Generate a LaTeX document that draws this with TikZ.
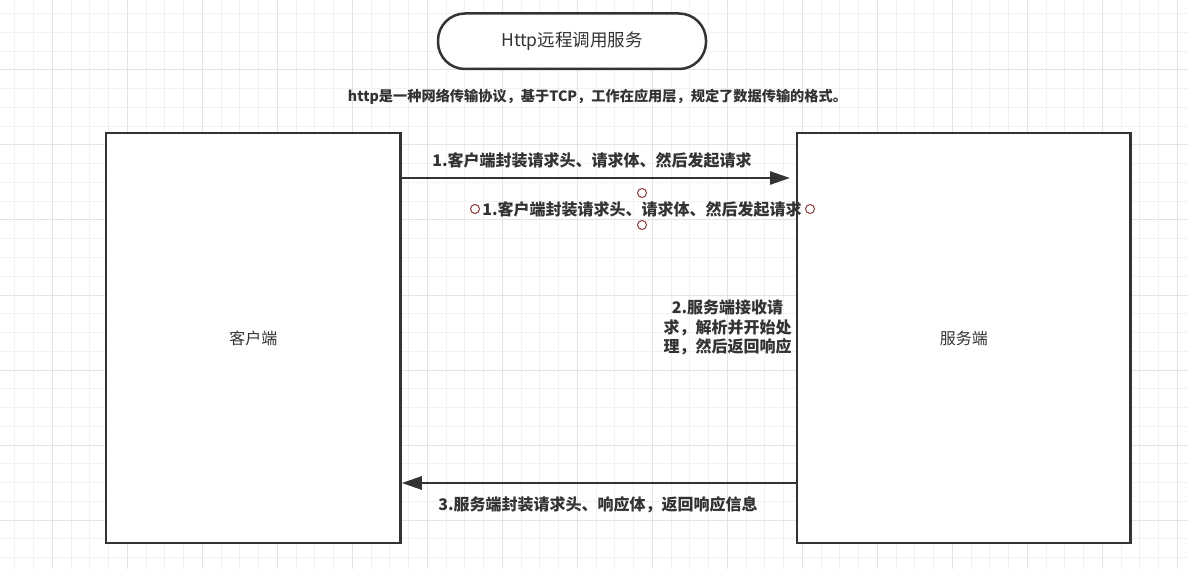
\documentclass[tikz,border=0pt]{standalone}
\usepackage{fontspec}
\setmainfont{Noto Sans CJK SC}
\usetikzlibrary{arrows.meta}
\definecolor{ink}{HTML}{333333}
\definecolor{gridminor}{HTML}{F1F1F1}
\definecolor{gridmajor}{HTML}{E3E3E3}
\definecolor{handle}{HTML}{8B3A3A}
\begin{document}
\begin{tikzpicture}[x=1pt,y=-1pt,
  box/.style={draw=ink,line width=2.5pt,fill=white,inner sep=0pt,text=ink,font=\fontsize{16}{20}\selectfont},
  lbl/.style={text=ink,inner sep=0pt,font=\bfseries\fontsize{16}{20}\selectfont},
  conn/.style={draw=ink,line width=2.5pt,-{Triangle[length=20pt,width=13pt]}},
  hnd/.style={circle,draw=handle,fill=white,line width=1pt,minimum size=9pt,inner sep=0pt}]
\useasboundingbox (0,0) rectangle (1188,569);
\fill[white] (0,0) rectangle (1188,569);
% grid
\foreach \i in {0,...,62} {\draw[gridminor,line width=1pt] ({14.8+18.75*\i},0) -- ({14.8+18.75*\i},569);}
\foreach \i in {0,...,29} {\draw[gridminor,line width=1pt] (0,{13.75+18.75*\i}) -- (1188,{13.75+18.75*\i});}
\foreach \i in {0,...,15} {\draw[gridmajor,line width=1pt] ({52.3+75*\i},0) -- ({52.3+75*\i},569);}
\foreach \i in {0,...,7} {\draw[gridmajor,line width=1pt] (0,{-5+75*\i}) -- (1188,{-5+75*\i});}

% title
\node[box,rounded corners=27pt,minimum width=268pt,minimum height=55.5pt,font=\fontsize{17.5}{20}\selectfont] (title) at (572,41.25) {Http远程调用服务};
\node[lbl,font=\bfseries\fontsize{14.2}{18}\selectfont] (desc) at (597.5,97) {http是一种网络传输协议，基于TCP，工作在应用层，规定了数据传输的格式。};

% boxes
\node[box,minimum width=294.5pt,minimum height=410pt] (client) at (253.25,338) {客户端};
\node[box,minimum width=333.5pt,minimum height=410pt] (server) at (963.75,338) {服务端};

% arrows
\coordinate (t1) at (790,178);
\coordinate (b1) at (797,483);
\draw[conn] (client.east |- t1) -- (t1);
\draw[conn] (server.west |- b1) -- (client.east |- b1);

% labels
\node[lbl] (l1) at (592,160) {1.客户端封装请求头、请求体、然后发起请求};
\node[lbl] (l1s) at (642,209) {1.客户端封装请求头、请求体、然后发起请求};
\node[hnd] (h1) at (475,209) {};
\node[hnd] (h2) at (810,209) {};
\node[hnd] (h3) at (642,193) {};
\node[hnd] (h4) at (642,225) {};
\node[lbl,align=center,font=\bfseries\fontsize{16}{19.8}\selectfont] (l2) at (727.5,327.5) {2.服务端接收请\\求，解析并开始处\\理，然后返回响应};
\node[lbl] (l3) at (598,505) {3.服务端封装请求头、响应体，返回响应信息};
\end{tikzpicture}
\end{document}
